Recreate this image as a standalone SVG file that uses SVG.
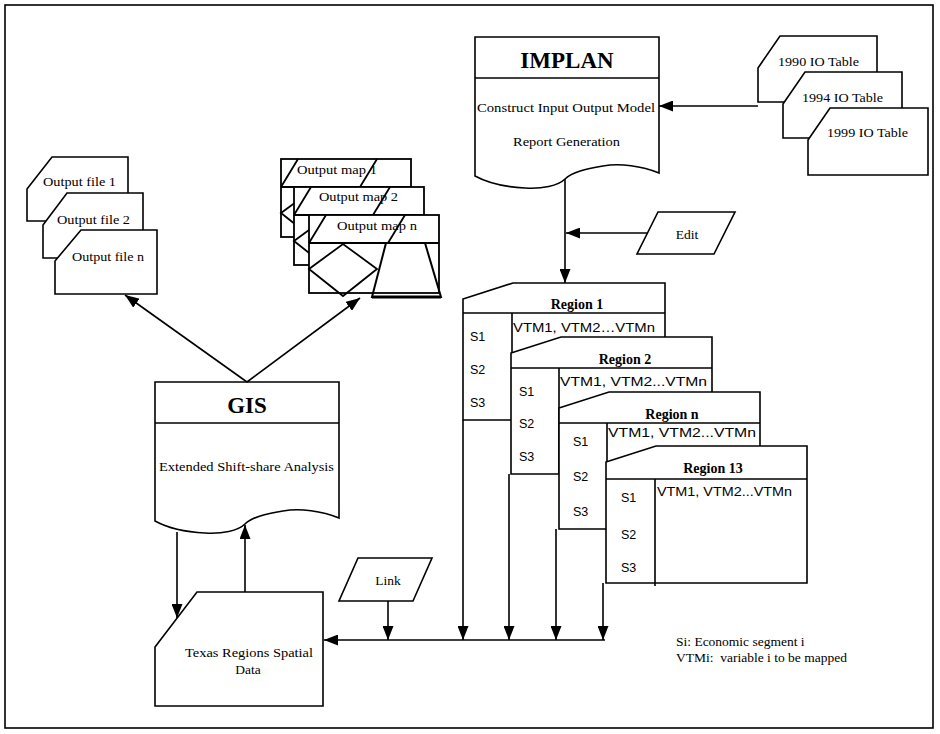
<svg xmlns="http://www.w3.org/2000/svg" width="940" height="734" viewBox="0 0 940 734">
  <style>
    .shape { fill: #fff; stroke: #000; stroke-width: 1.6; stroke-linejoin: miter; }
    .ln { fill: none; stroke: #000; stroke-width: 1.6; }
    .conn { fill: none; stroke: #000; stroke-width: 1.6; marker-end: url(#arrow); }
    .serif { font-family: "Liberation Serif", "Times New Roman", serif; font-size: 13.5px; fill: #000; }
    .title { font-family: "Liberation Serif", "Times New Roman", serif; font-size: 23px; font-weight: bold; fill: #000; }
    .rtitle { font-family: "Liberation Serif", "Times New Roman", serif; font-size: 14px; font-weight: bold; fill: #000; }
    .sans { font-family: "Liberation Sans", Arial, sans-serif; font-size: 12.5px; fill: #000; }
  </style>
  <defs>
    <marker id="arrow" markerUnits="userSpaceOnUse" markerWidth="14" markerHeight="11" refX="14" refY="5.5" orient="auto">
      <path d="M0,0 L14,5.5 L0,11 Z" fill="#000"/>
    </marker>
    <!-- document shape with wavy bottom -->
    <path id="docShape" d="M155,382 H339 V518 C322,511 300,508 283,511 C266,514 252,517 245,524 C238,531 222,534 205,533 C185,532 166,527 155,521 Z"/>
    <!-- output map symbol: display header, diamond and trapezoid -->
    <g id="mapShape">
      <rect x="0" y="0" width="130" height="78" fill="#fff" stroke="#000" stroke-width="1.8"/>
      <path d="M0,28 H130 M0,28 L17,0 M79,28 L96,0" fill="none" stroke="#000" stroke-width="1.8"/>
      <path d="M0,54 L34,29 L68,54 L34,81 Z" fill="none" stroke="#000" stroke-width="1.8"/>
      <path d="M77,28 H116 L132,82 H63 Z" fill="none" stroke="#000" stroke-width="2"/>
      <path d="M63,82 H132" fill="none" stroke="#000" stroke-width="3"/>
    </g>
  </defs>

  <!-- outer frame -->
  <rect x="5" y="5" width="928" height="723" fill="#fff" stroke="#000" stroke-width="1.6"/>

  <!-- IMPLAN -->
  <g id="implan">
    <use href="#docShape" transform="translate(320,-345)" class="shape"/>
    <path class="ln" d="M475,78 H659"/>
    <text class="title" x="567" y="68" text-anchor="middle">IMPLAN</text>
    <text class="serif" x="477" y="112" textLength="178" lengthAdjust="spacingAndGlyphs">Construct Input Output Model</text>
    <text class="serif" x="513" y="146" textLength="107" lengthAdjust="spacingAndGlyphs">Report Generation</text>
  </g>

  <!-- IO tables -->
  <g id="io-1990">
    <path class="shape" d="M758,68 L780,36 H877 V102 H758 Z"/>
    <text class="serif" x="778" y="66" textLength="81" lengthAdjust="spacingAndGlyphs">1990 IO Table</text>
  </g>
  <g id="io-1994">
    <path class="shape" d="M783,104 L805,72 H902 V138 H783 Z"/>
    <text class="serif" x="802" y="102" textLength="81" lengthAdjust="spacingAndGlyphs">1994 IO Table</text>
  </g>
  <g id="io-1999">
    <path class="shape" d="M808,140 L830,108 H928 V175 H808 Z"/>
    <text class="serif" x="827" y="137" textLength="81" lengthAdjust="spacingAndGlyphs">1999 IO Table</text>
  </g>

  <!-- Edit -->
  <g id="edit">
    <path class="shape" d="M658,212 H735 L714,254 H637 Z" stroke-width="2"/>
    <text class="serif" x="687" y="239" text-anchor="middle">Edit</text>
  </g>

  <!-- Output files -->
  <g id="output-file-1">
    <path class="shape" d="M27,189 L52,157 H128 V221 H27 Z"/>
    <text class="serif" x="43" y="186" textLength="73" lengthAdjust="spacingAndGlyphs">Output file 1</text>
  </g>
  <g id="output-file-2">
    <path class="shape" d="M43,225 L67,193 H143 V258 H43 Z"/>
    <text class="serif" x="57" y="224" textLength="73" lengthAdjust="spacingAndGlyphs">Output file 2</text>
  </g>
  <g id="output-file-n">
    <path class="shape" d="M55,261 L81,230 H157 V294 H55 Z"/>
    <text class="serif" x="72" y="261" textLength="72" lengthAdjust="spacingAndGlyphs">Output file n</text>
  </g>

  <!-- Output maps -->
  <g id="output-map-1">
    <use href="#mapShape" transform="translate(281,159)"/>
    <text class="serif" x="297" y="174" textLength="80" lengthAdjust="spacingAndGlyphs">Output map 1</text>
  </g>
  <g id="output-map-2">
    <use href="#mapShape" transform="translate(294,187)"/>
    <text class="serif" x="319" y="201" textLength="79" lengthAdjust="spacingAndGlyphs">Output map 2</text>
  </g>
  <g id="output-map-n">
    <use href="#mapShape" transform="translate(309,215)"/>
    <text class="serif" x="337" y="230" textLength="80" lengthAdjust="spacingAndGlyphs">Output map n</text>
  </g>

  <!-- GIS -->
  <g id="gis">
    <use href="#docShape" class="shape"/>
    <path class="ln" d="M155,423 H339"/>
    <text class="title" x="247" y="413" text-anchor="middle">GIS</text>
    <text class="serif" x="159" y="471" textLength="175" lengthAdjust="spacingAndGlyphs">Extended Shift-share Analysis</text>
  </g>

  <!-- Texas regions spatial data -->
  <g id="texas-data">
    <path class="shape" d="M155,647 L197,592 H323 V706 H155 Z"/>
    <text class="serif" x="185" y="657" textLength="128" lengthAdjust="spacingAndGlyphs">Texas Regions Spatial</text>
    <text class="serif" x="248" y="674" text-anchor="middle">Data</text>
  </g>

  <!-- Link -->
  <g id="link">
    <path class="shape" d="M358,558 H432 L413,601 H339 Z"/>
    <text class="serif" x="388" y="585" text-anchor="middle">Link</text>
  </g>

  <!-- Regions (stacked) -->
  <g id="region-1">
    <path class="shape" d="M463,299 L513,283 H665 V420 H463 Z"/>
    <path class="ln" d="M463,313 H665 M512,313 V420"/>
    <text class="rtitle" x="577" y="309" text-anchor="middle">Region 1</text>
    <text class="sans" x="513" y="332" textLength="142" lengthAdjust="spacingAndGlyphs">VTM1, VTM2…VTMn</text>
    <text class="sans" x="470" y="341">S1</text>
    <text class="sans" x="470" y="374">S2</text>
    <text class="sans" x="470" y="407">S3</text>
  </g>
  <g id="region-2">
    <path class="shape" d="M511,353 L561,337 H712 V474 H511 Z"/>
    <path class="ln" d="M511,368 H712 M559,368 V474"/>
    <text class="rtitle" x="625" y="364" text-anchor="middle">Region 2</text>
    <text class="sans" x="560" y="386" textLength="147" lengthAdjust="spacingAndGlyphs">VTM1, VTM2...VTMn</text>
    <text class="sans" x="519" y="396">S1</text>
    <text class="sans" x="519" y="428">S2</text>
    <text class="sans" x="519" y="461">S3</text>
  </g>
  <g id="region-n">
    <path class="shape" d="M559,408 L609,392 H760 V529 H559 Z"/>
    <path class="ln" d="M559,423 H760 M607,423 V529"/>
    <text class="rtitle" x="672" y="419" text-anchor="middle">Region n</text>
    <text class="sans" x="608" y="437" textLength="148" lengthAdjust="spacingAndGlyphs">VTM1, VTM2...VTMn</text>
    <text class="sans" x="573" y="446">S1</text>
    <text class="sans" x="573" y="481">S2</text>
    <text class="sans" x="573" y="516">S3</text>
  </g>
  <g id="region-13">
    <path class="shape" d="M606,462 L656,446 H807 V583 H606 Z"/>
    <path class="ln" d="M606,479 H807 M655,479 V586"/>
    <text class="rtitle" x="713" y="473" text-anchor="middle">Region 13</text>
    <text class="sans" x="657" y="496" textLength="135" lengthAdjust="spacingAndGlyphs">VTM1, VTM2...VTMn</text>
    <text class="sans" x="621" y="502">S1</text>
    <text class="sans" x="621" y="539">S2</text>
    <text class="sans" x="621" y="572">S3</text>
  </g>

  <!-- Legend -->
  <g id="legend">
    <text class="serif" x="676" y="646" font-size="14px">Si: Economic segment i</text>
    <text class="serif" x="676" y="662" font-size="14px" xml:space="preserve">VTMi:  variable i to be mapped</text>
  </g>

  <!-- Connectors -->
  <g id="connectors">
    <path class="conn" d="M758,106 H659"/>
    <path class="conn" d="M565,179 V283"/>
    <path class="conn" d="M648,233 H566"/>
    <path class="conn" d="M247,382 L125,295"/>
    <path class="conn" d="M247,382 L360,298"/>
    <path class="conn" d="M177,532 V618"/>
    <path class="conn" d="M245,592 V525"/>
    <path class="conn" d="M388,601 V640"/>
    <path class="conn" d="M605,640 H324"/>
    <path class="conn" d="M463,420 V640"/>
    <path class="conn" d="M509,474 V640"/>
    <path class="conn" d="M556,529 V640"/>
    <path class="conn" d="M603,583 V640"/>
  </g>
</svg>
